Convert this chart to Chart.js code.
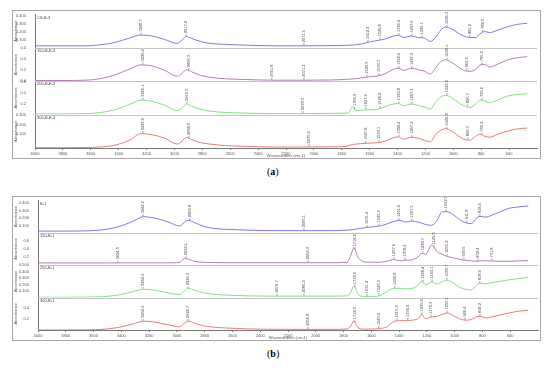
<!DOCTYPE html>
<html><head><meta charset="utf-8">
<script src="https://cdn.jsdelivr.net/npm/chart.js@4.4.0/dist/chart.umd.min.js"></script>
<style>
html,body{margin:0;padding:0;background:#fff;width:550px;height:370px;overflow:hidden;}
canvas{display:block;}
.frame{position:absolute;border:1px solid #a8a8a8;box-sizing:border-box;}
.cap{position:absolute;font-family:"Liberation Serif",serif;font-size:10px;color:#000;}
</style></head><body>
<div class="frame" style="left:12px;top:10px;width:529px;height:149px"><canvas id="ca" width="527" height="147"></canvas></div>
<div class="frame" style="left:12px;top:196px;width:529px;height:145px"><canvas id="cb" width="527" height="143"></canvas></div>
<div class="cap" style="left:267px;top:166px">(<b>a</b>)</div>
<div class="cap" style="left:267px;top:348px">(<b>b</b>)</div>
<script>
// ---------- data ----------
const wavenumbers = [4000,3820,3640,3535,3425,3320,3240,3160,3070,2980,2945,2915,2875,2815,2745,2640,2495,2280,2100,1885,1775,1750,1725,1700,1655,1600,1540,1490,1440,1395,1355,1305,1255,1240,1210,1165,1125,1090,1055,1010,965,925,880,840,810,775,740,680,610,535,470];
const xTicks = [4000,3800,3600,3400,3200,3000,2800,2600,2400,2200,2000,1800,1600,1400,1200,1000,800,600];

const sampleNamesA = ['CS-E-3','150-B-E-3','200-B-E-3','300-B-E-3'];
const sampleNamesB = ['B-1','150-B-1','250-B-1','300-B-1'];

// panel (a)
const absA1 = [0.025,0.025,0.025,0.0375,0.069,0.125,0.1625,0.15,0.106,0.056,0.1,0.144,0.119,0.081,0.056,0.044,0.034,0.025,0.025,0.0275,0.031,0.034,0.035,0.0375,0.05,0.075,0.094,0.1125,0.144,0.159,0.131,0.15,0.131,0.129,0.125,0.081,0.1375,0.225,0.2625,0.2375,0.1875,0.15,0.131,0.131,0.175,0.206,0.194,0.225,0.269,0.3,0.3125];
const absA2 = [0.013,0.013,0.018,0.045,0.117,0.225,0.3,0.279,0.198,0.09,0.144,0.211,0.171,0.108,0.072,0.045,0.031,0.018,0.018,0.022,0.031,0.036,0.04,0.045,0.063,0.081,0.099,0.135,0.207,0.239,0.198,0.234,0.216,0.2,0.189,0.131,0.252,0.36,0.391,0.342,0.261,0.198,0.18,0.216,0.297,0.306,0.261,0.315,0.391,0.432,0.45];
const absA3 = [0.013,0.013,0.018,0.036,0.09,0.189,0.265,0.243,0.171,0.072,0.126,0.193,0.153,0.099,0.063,0.04,0.027,0.018,0.018,0.022,0.027,0.032,0.144,0.072,0.081,0.09,0.099,0.144,0.189,0.203,0.162,0.193,0.171,0.162,0.144,0.103,0.234,0.324,0.355,0.306,0.225,0.162,0.131,0.198,0.265,0.252,0.216,0.27,0.342,0.369,0.383];
const absA4 = [-0.037,-0.037,-0.035,-0.03,-0.01,0.04,0.107,0.095,0.06,0.0,0.03,0.067,0.045,0.015,0.0,-0.015,-0.023,-0.03,-0.03,-0.028,-0.025,-0.015,-0.005,0.0,0.005,0.01,0.015,0.03,0.06,0.073,0.05,0.07,0.06,0.055,0.04,0.023,0.1,0.14,0.157,0.13,0.085,0.05,0.04,0.08,0.1,0.08,0.07,0.1,0.133,0.155,0.163];

// panel (b)
const absB1 = [0.023,0.023,0.027,0.04,0.08,0.153,0.219,0.2,0.153,0.093,0.146,0.169,0.14,0.093,0.062,0.047,0.036,0.029,0.029,0.029,0.036,0.04,0.047,0.053,0.067,0.08,0.093,0.12,0.153,0.169,0.146,0.159,0.14,0.133,0.113,0.102,0.173,0.286,0.286,0.246,0.18,0.14,0.124,0.206,0.222,0.213,0.233,0.279,0.333,0.352,0.366];
const absB2 = [0.056,0.056,0.056,0.056,0.058,0.058,0.058,0.058,0.058,0.068,0.17,0.145,0.097,0.073,0.065,0.061,0.061,0.061,0.061,0.061,0.073,0.218,0.436,0.218,0.085,0.073,0.073,0.097,0.138,0.109,0.121,0.133,0.23,0.291,0.267,0.497,0.327,0.267,0.218,0.182,0.145,0.121,0.109,0.097,0.109,0.109,0.104,0.097,0.097,0.109,0.114];
const absB3 = [0.005,0.005,0.008,0.015,0.038,0.091,0.129,0.114,0.076,0.045,0.106,0.144,0.114,0.076,0.053,0.038,0.027,0.023,0.023,0.023,0.026,0.076,0.182,0.068,0.015,0.015,0.03,0.091,0.144,0.144,0.136,0.144,0.212,0.258,0.197,0.242,0.212,0.242,0.268,0.227,0.159,0.129,0.117,0.197,0.22,0.212,0.227,0.25,0.273,0.295,0.311];
const absB4 = [0,0,0.0035,0.012,0.044,0.105,0.158,0.141,0.097,0.058,0.123,0.158,0.123,0.079,0.053,0.035,0.021,0.012,0.012,0.012,0.018,0.07,0.158,0.053,0.014,0.018,0.026,0.053,0.149,0.167,0.167,0.176,0.22,0.281,0.202,0.234,0.246,0.281,0.304,0.255,0.202,0.176,0.188,0.237,0.241,0.216,0.229,0.264,0.304,0.338,0.352];

// peak labels (cm-1)
const peaksA1 = [3240.7,2917.2,2071.5,1612.4,1526.8,1390.2,1297.6,1225.1,1046.3,881.2,788.5];
const peaksA2 = [3226.4,2896.3,2301.8,2071.2,1620.5,1533.7,1390.6,1297.9,1046.1,903.4,795.2];
const peaksA3 = [3226.1,2910.5,2078.3,1706.9,1627.2,1526.4,1390.8,1297.3,1046.5,896.7,795.6];
const peaksA4 = [3226.9,2896.6,2035.4,1627.8,1533.1,1390.4,1297.2,1046.8,896.3,795.9];
const peaksB1 = [3244.2,2906.8,2085.1,1631.4,1545.9,1401.6,1307.3,1062.5,911.8,818.4];
const peaksB2 = [3424.5,2934.1,2056.3,1718.2,1437.6,1358.4,1228.7,1149.5,1055.2,933.6,832.4,731.8];
const peaksB3 = [3244.6,2920.3,2279.7,2085.4,1718.6,1631.2,1545.3,1430.8,1228.4,1163.1,1055.7,818.9];
const peaksB4 = [3244.9,2920.7,2056.8,1718.5,1545.6,1415.2,1336.9,1235.4,1170.3,1055.1,926.4,818.2];

// y-axis ranges and tick values per strip
const yRangeA = [[0,0.425],[0,0.612],[0,0.612],[-0.04,0.30]];
const yRangeB = [[0,0.44],[0,0.8],[0,0.5],[0,0.58]];
const yTicksA = [[0,0.1,0.2,0.3,0.4],[0,0.2,0.4],[0.2,0.4,0.6],[0.1,0.2,0.3]];
const yTicksB = [[0.1,0.2,0.3,0.4],[0.2,0.4,0.6],[0.1,0.2,0.3,0.4,0.5],[0.2,0.4]];
const yDecA = [3,1,1,3];
const yDecB = [3,1,3,1];

const colors = ['#7c7ce8','#b67cb8','#7ee27e','#ea7a7a'];
const FONT = '"Liberation Sans", Arial, sans-serif';

// ---------- helpers ----------
function interp(vals, w){
  for(let i=0;i<wavenumbers.length-1;i++){
    const a=wavenumbers[i], b=wavenumbers[i+1];
    if(w<=a && w>=b){ const t=(a-w)/(a-b); return vals[i]+(vals[i+1]-vals[i])*t; }
  }
  return vals[vals.length-1];
}

const deco = {
  id:'deco',
  afterDatasetsDraw(chart){
    const ctx=chart.ctx, ca=chart.chartArea, xs=chart.scales.x;
    ctx.save();
    chart.data.datasets.forEach(ds=>{
      const ys=chart.scales[ds.yAxisID];
      if(ys.bottom < ca.bottom-1){
        ctx.strokeStyle='#c4c4c4'; ctx.lineWidth=1;
        ctx.beginPath(); ctx.moveTo(ca.left, Math.round(ys.bottom)+0.5); ctx.lineTo(ca.right, Math.round(ys.bottom)+0.5); ctx.stroke();
      }
      ctx.font='4px '+FONT; ctx.fillStyle='#444'; ctx.textAlign='left'; ctx.textBaseline='top';
      ctx.fillText(ds.label, ca.left+2, ys.top+1);
      ds.peaks.forEach(p=>{
        const v=interp(ds.vals,p);
        const x=xs.getPixelForValue(p), y=ys.getPixelForValue(v);
        ctx.strokeStyle='#555'; ctx.lineWidth=0.6;
        ctx.beginPath(); ctx.moveTo(x,y-0.5); ctx.lineTo(x,y-2.5); ctx.stroke();
        ctx.save(); ctx.translate(x+0.2,y-3.5); ctx.rotate(-Math.PI/2);
        ctx.font='4px '+FONT; ctx.fillStyle='#444'; ctx.textAlign='left'; ctx.textBaseline='middle';
        ctx.fillText(p.toFixed(1),0,0); ctx.restore();
      });
    });
    ctx.restore();
  }
};

function build(id, vals, names, peaks, ranges, ticks, decs, yWidth, rightPad){
  const scales = {
    x:{type:'linear', reverse:true, min:400, max:4000,
       afterBuildTicks:s=>{s.ticks=xTicks.map(v=>({value:v}));},
       afterFit:s=>{s.height=10;},
       ticks:{font:{size:4,family:FONT}, color:'#555', padding:1, maxRotation:0, autoSkip:false, callback:v=>String(v)},
       grid:{drawOnChartArea:false, tickLength:2, color:'#777'},
       border:{color:'#777'},
       title:{display:true, text:'Wavenumbers (cm-1)', font:{size:4,family:FONT}, color:'#555', padding:0}}
  };
  const datasets=[];
  vals.forEach((v,i)=>{
    const id2='y'+i;
    scales[id2]={type:'linear', position:'left', stack:'s', stackWeight:1, weight:4-i,
      min:ranges[i][0], max:ranges[i][1],
      afterBuildTicks:s=>{s.ticks=ticks[i].map(t=>({value:t}));},
      afterFit:s=>{s.width=yWidth;},
      ticks:{font:{size:4,family:FONT}, color:'#555', padding:1, autoSkip:false, callback:t=>t===0?'0.0':t.toFixed(decs[i])},
      grid:{display:false},
      border:{display:true,color:'#777'},
      title:{display:true, text:'Absorbance', font:{size:4,family:FONT}, color:'#555', padding:0}};
    datasets.push({label:names[i], yAxisID:id2, vals:v, peaks:peaks[i],
      data:wavenumbers.map((w,k)=>({x:w,y:v[k]})),
      borderColor:colors[i], borderWidth:1, pointRadius:0, fill:false,
      cubicInterpolationMode:'monotone'});
  });
  new Chart(document.getElementById(id),{
    type:'line',
    data:{datasets},
    options:{responsive:false, animation:false, devicePixelRatio:1,
      layout:{padding:{left:0,top:1,right:rightPad,bottom:0}},
      plugins:{legend:{display:false}, tooltip:{enabled:false}},
      scales},
    plugins:[deco]
  });
}

build('ca',[absA1,absA2,absA3,absA4],sampleNamesA,[peaksA1,peaksA2,peaksA3,peaksA4],yRangeA,yTicksA,yDecA,22,3);
build('cb',[absB1,absB2,absB3,absB4],sampleNamesB,[peaksB1,peaksB2,peaksB3,peaksB4],yRangeB,yTicksB,yDecB,25,2);
</script></body></html>
